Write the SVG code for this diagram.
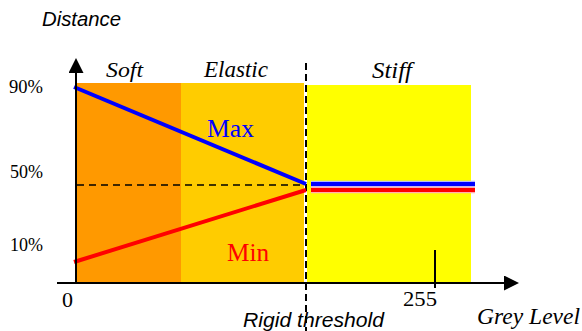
<svg xmlns="http://www.w3.org/2000/svg" width="582" height="331" viewBox="0 0 582 331">
  <style>
    .sans { font-family: "Liberation Sans", Arial, sans-serif; font-style: italic; fill: #000; }
    .serif { font-family: "Liberation Serif", "Times New Roman", serif; fill: #000; }
    .it { font-style: italic; }
    .axis { stroke: #000; stroke-width: 2; fill: none; }
    .dash { stroke: #000; fill: none; }
  </style>
  <defs>
    <marker id="arrow" viewBox="0 0 15 15" refX="1" refY="7.5" markerWidth="15" markerHeight="15" markerUnits="userSpaceOnUse" orient="auto">
      <path d="M0,0 L15,7.5 L0,15 Z" fill="#000"/>
    </marker>
  </defs>

  <g id="zones">
    <rect id="soft-zone" x="77" y="83" width="104" height="199" fill="#FF9900"/>
    <rect id="elastic-zone" x="181" y="83" width="123" height="199" fill="#FFCC00"/>
    <rect id="stiff-zone" x="307" y="85" width="164" height="197" fill="#FFFF00"/>
  </g>

  <g id="connectors">
    <line class="dash" x1="77" y1="185" x2="306" y2="185" stroke-width="1.6" stroke-dasharray="7,5"/>
    <line class="dash" x1="306" y1="63" x2="306" y2="331" stroke-width="2" stroke-dasharray="7,4"/>
    <line x1="74" y1="87" x2="306" y2="184" stroke="#0000FF" stroke-width="4"/>
    <line x1="74" y1="262" x2="306" y2="190" stroke="#FF0000" stroke-width="4"/>
    <line x1="311" y1="184" x2="475" y2="184" stroke="#B8B8FF" stroke-width="6.5"/>
    <line x1="311" y1="184" x2="475" y2="184" stroke="#0000FF" stroke-width="4"/>
    <line x1="311" y1="190" x2="475" y2="190" stroke="#FFB0B0" stroke-width="6.5"/>
    <line x1="311" y1="190" x2="475" y2="190" stroke="#FF0000" stroke-width="4"/>
    <line class="axis" x1="76" y1="283" x2="76" y2="72" marker-end="url(#arrow)"/>
    <line class="axis" x1="57" y1="283" x2="505" y2="283" marker-end="url(#arrow)"/>
    <line class="axis" x1="435" y1="250" x2="435" y2="288"/>
  </g>

  <g id="labels">
    <text class="sans" x="42" y="26" font-size="20" textLength="79" lengthAdjust="spacingAndGlyphs">Distance</text>
    <text class="sans" x="243" y="327" font-size="21" textLength="141" lengthAdjust="spacingAndGlyphs">Rigid threshold</text>
    <text class="serif it" x="477" y="324" font-size="23" textLength="103" lengthAdjust="spacingAndGlyphs">Grey Level</text>
    <text class="serif it" x="106" y="77" font-size="22" textLength="37" lengthAdjust="spacingAndGlyphs">Soft</text>
    <text class="serif it" x="204" y="77" font-size="23" textLength="64" lengthAdjust="spacingAndGlyphs">Elastic</text>
    <text class="serif it" x="372" y="78" font-size="23" textLength="40" lengthAdjust="spacingAndGlyphs">Stiff</text>
    <text class="serif" x="207" y="137" font-size="25" fill="#0000FF" style="fill:#0000FF" textLength="47" lengthAdjust="spacingAndGlyphs">Max</text>
    <text class="serif" x="227" y="261" font-size="25" style="fill:#FF0000" textLength="42" lengthAdjust="spacingAndGlyphs">Min</text>
    <text class="serif" x="9" y="93" font-size="18" textLength="34" lengthAdjust="spacingAndGlyphs">90%</text>
    <text class="serif" x="10" y="178" font-size="18" textLength="33" lengthAdjust="spacingAndGlyphs">50%</text>
    <text class="serif" x="10" y="251" font-size="18" textLength="33" lengthAdjust="spacingAndGlyphs">10%</text>
    <text class="serif" x="62" y="307" font-size="22">0</text>
    <text class="serif" x="403" y="306" font-size="22" textLength="34" lengthAdjust="spacingAndGlyphs">255</text>
  </g>
</svg>
